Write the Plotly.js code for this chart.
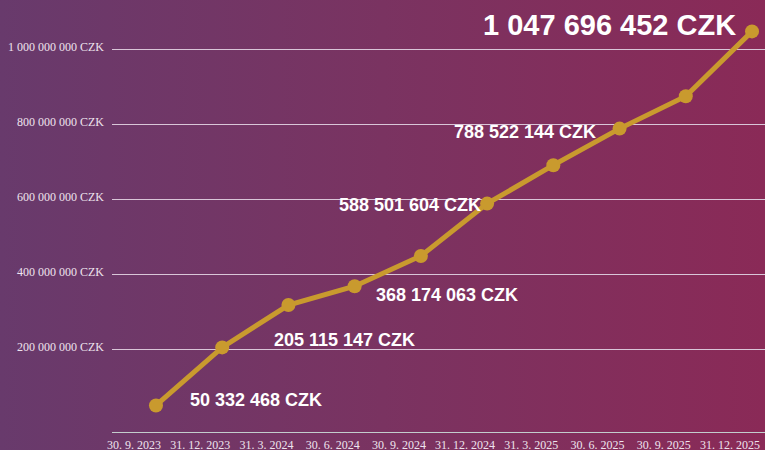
<!DOCTYPE html>
<html>
<head>
<meta charset="utf-8">
<script src="https://cdn.plot.ly/plotly-3.0.1.min.js"></script>
<style>
  html, body { margin: 0; padding: 0; }
  #chart { width: 765px; height: 450px; background: linear-gradient(to right, #683a6c 0%, #7a3361 50%, #8a2a57 100%); }
</style>
</head>
<body>
<div id="chart"></div>
<script>
// ---- data ----
const dates = ['30. 9. 2023', '31. 12. 2023', '31. 3. 2024', '30. 6. 2024', '30. 9. 2024',
               '31. 12. 2024', '31. 3. 2025', '30. 6. 2025', '30. 9. 2025', '31. 12. 2025'];
const values = [50332468, 205115147, 318000000, 368174063, 449000000,
                588501604, 691000000, 788522144, 875000000, 1047696452];
const labelledPoints = [0, 1, 3, 5, 7, 9];
const yTickValues = [200000000, 400000000, 600000000, 800000000, 1000000000];
const currency = 'CZK';

function fmt(v) {
  return String(Math.round(v)).replace(/\B(?=(\d{3})+(?!\d))/g, ' ') + ' ' + currency;
}

const xIdx = dates.map((d, i) => i);

// label placement (style, not data)
const labelStyle = {
  0: {xanchor: 'left',  xshift: 32,  yshift: 5,  size: 18},
  1: {xanchor: 'left',  xshift: 50,  yshift: 7,  size: 18},
  3: {xanchor: 'left',  xshift: 19,  yshift: -9, size: 18},
  5: {xanchor: 'right', xshift: -4,  yshift: -1, size: 18},
  7: {xanchor: 'right', xshift: -22, yshift: -3, size: 18},
  9: {xanchor: 'right', xshift: -14, yshift: 6,  size: 29}
};

const annotations = labelledPoints.map(i => ({
  x: xIdx[i], y: values[i], xref: 'x', yref: 'y',
  text: fmt(values[i]), showarrow: false,
  xanchor: labelStyle[i].xanchor, yanchor: 'middle',
  xshift: labelStyle[i].xshift, yshift: labelStyle[i].yshift,
  font: {family: 'Liberation Sans, Arial, sans-serif', size: labelStyle[i].size, color: '#ffffff', weight: 'bold'}
}));

const trace = {
  x: xIdx, y: values, type: 'scatter', mode: 'lines+markers',
  line: {color: '#c99a2e', width: 5},
  marker: {color: '#c99a2e', size: 14},
  hoverinfo: 'skip', cliponaxis: false
};

const layout = {
  width: 765, height: 450,
  margin: {l: 112, r: 0, t: 10, b: 18, pad: 0},
  paper_bgcolor: 'rgba(0,0,0,0)', plot_bgcolor: 'rgba(0,0,0,0)',
  showlegend: false,
  xaxis: {
    range: [-0.664, 9.196], tickvals: xIdx, ticktext: dates,
    showgrid: false, zeroline: false, showline: true, linecolor: '#c3cdcd', linewidth: 1,
    ticks: '', ticklabelshift: -22, ticklabelstandoff: 2,
    tickfont: {family: '"Liberation Serif", "Times New Roman", serif', size: 12, color: '#eee4ee'},
    fixedrange: true
  },
  yaxis: {
    range: [-20500000, 1104800000], tickvals: yTickValues, ticktext: yTickValues.map(fmt),
    showgrid: true, gridcolor: '#d9c6d8', gridwidth: 1, zeroline: false, showline: false,
    ticks: '', ticklabelstandoff: 7, ticklabelshift: -3,
    tickfont: {family: '"Liberation Serif", "Times New Roman", serif', size: 12, color: '#eee4ee'},
    fixedrange: true
  },
  annotations: annotations
};

Plotly.newPlot('chart', [trace], layout, {displayModeBar: false, staticPlot: true});
</script>
</body>
</html>
